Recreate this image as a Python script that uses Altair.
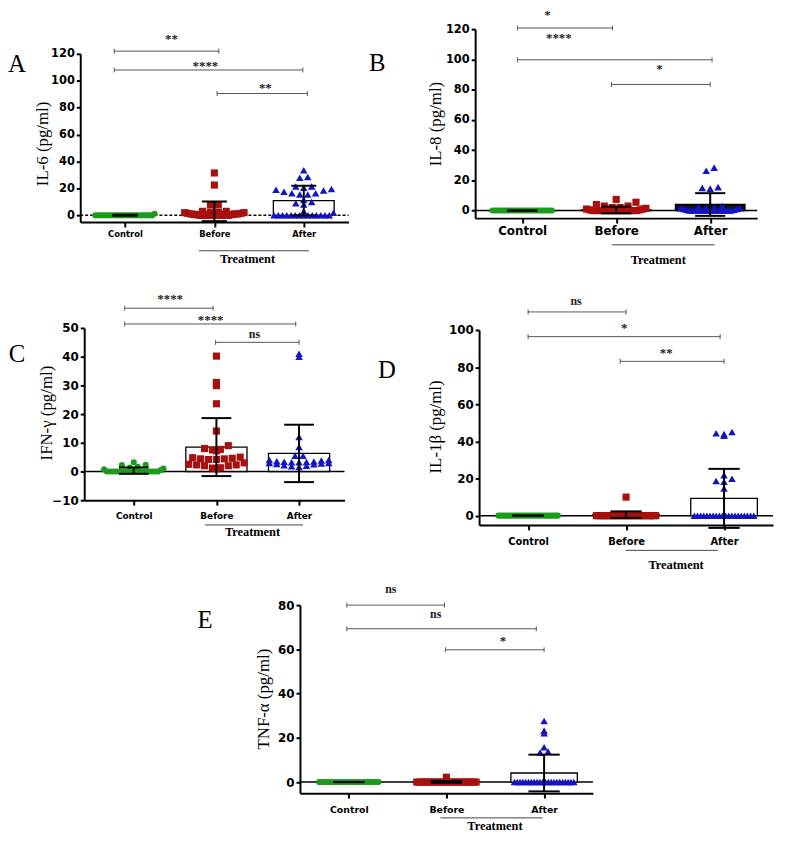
import altair as alt
import pandas as pd

categories = ["Control", "Before", "After"]
point_colors = ["#1c9c1c", "#a80f0f", "#1414c2"]
point_shapes = ["circle", "square", "triangle-up"]
point_sizes = [38, 52, 58]

# ---------------- Panel A : IL-6 ----------------
a_control = [1.2, 0, 0, 0, 0, 0, 0, 0, 0, 0, 0, 0, 0, 0, 0, 0, 0, 0, 0, 0, 0, 0, 0, 0, 0, 0]
a_before = [31.5, 22.5, 8, 8, 3, 3, 2.5, 2.5, 2, 2, 1.5, 1.5, 1, 1, 1, 0.5, 0.5, 0.5,
            0, 0, 0, 0, 0, 0, 0, 0, 0, 0]
a_after = [33.5, 28.5, 28, 21.5, 21.5, 20.5, 19.5, 19, 18.5, 17.5, 16.5, 16.5, 15.5, 15.5,
           11.5, 10, 9, 8, 3, 2, 0, 0, 0, 0, 0, 0, 0, 0, 0, 0, 0, 0, 0, 0]
a_means = [0.1, 3.0, 11.0]
a_sds = [0.4, 7.3, 11.0]
a_ticks = [0, 20, 40, 60, 80, 100, 120]
a_brackets = [(-0.12, 1.05, 122, "**", 0.52, 132.5),
              (-0.12, 1.99, 108, "****", 0.90, 112.7),
              (1.03, 2.04, 90.5, "**", 1.57, 95.7)]

# ---------------- Panel B : IL-8 ----------------
b_control = [0, 0, 0, 0, 0, 0, 0, 0, 0, 0, 0, 0, 0, 0, 0, 0, 0, 0, 0, 0, 0, 0, 0, 0, 0, 0, 0, 0]
b_before = [7.4, 5.5, 4, 3, 3, 2, 2, 1.5, 1, 1, 0.5, 0.5,
            0, 0, 0, 0, 0, 0, 0, 0, 0, 0, 0, 0, 0, 0, 0, 0]
b_after = [28.4, 26.4, 15.5, 15, 14.5, 3, 2.5, 2, 2, 1.5, 1.5, 1, 1, 0.5, 0.5,
           0, 0, 0, 0, 0, 0, 0, 0, 0, 0, 0, 0, 0, 0, 0]
b_means = [0.0, 0.4, 4.0]
b_sds = [0.0, 2.2, 7.5]
b_ticks = [0, 20, 40, 60, 80, 100, 120]
b_brackets = [(-0.05, 0.96, 120.7, "*", 0.27, 130.5),
              (-0.05, 2.02, 99.7, "****", 0.39, 115.4),
              (0.95, 2.0, 83.4, "*", 1.46, 95.2)]

# ---------------- Panel C : IFN-gamma ----------------
c_control = [3.2, 2.3, 2.2, 1.6, 1.4, 1.0, 0.8, 0.5,
             0, 0, 0, 0, 0, 0, 0, 0, 0, 0, 0, 0, 0, 0, 0, 0, 0, 0, 0, 0]
c_before = [40.2, 31, 29.9, 23.6, 14.1, 9, 8, 7.7, 7.5, 7.2, 5, 4.8, 4.6, 4.4, 4.4, 4.2, 4.2,
            3, 2.5, 2.3, 2.3, 2, 2, 1.3, 1.2, 1.0]
c_after = [41, 40, 12, 8.5, 5.5, 5.5, 4, 4, 3.8, 3.6, 3.5, 3.4, 3.3, 3.2, 3.2, 3, 3, 2.8,
           2.6, 2.5, 2.2, 2, 1.8, 1.6]
c_means = [0.3, 8.5, 6.3]
c_sds = [1.1, 10.1, 10.0]
c_ticks = [-10, 0, 10, 20, 30, 40, 50]
c_brackets = [(-0.11, 0.96, 56.9, "****", 0.44, 60.7),
              (-0.11, 1.96, 51.4, "****", 0.93, 53.6),
              (0.99, 2.0, 45.0, "ns", 1.46, 47.6)]

# ---------------- Panel D : IL-1beta ----------------
d_control = [0, 0, 0, 0, 0, 0, 0, 0, 0, 0, 0, 0, 0, 0, 0, 0, 0, 0, 0, 0, 0, 0, 0, 0, 0, 0]
d_before = [10, 0, 0, 0, 0, 0, 0, 0, 0, 0, 0, 0, 0, 0, 0, 0, 0, 0, 0, 0, 0, 0, 0, 0, 0, 0, 0, 0]
d_after = [45, 44.4, 43.9, 43, 21.7, 19.9, 18.7, 18.3, 14.6,
           0, 0, 0, 0, 0, 0, 0, 0, 0, 0, 0, 0, 0, 0, 0, 0, 0, 0, 0, 0]
d_means = [0.0, 0.55, 9.3]
d_sds = [0.0, 1.75, 15.9]
d_ticks = [0, 20, 40, 60, 80, 100]
d_brackets = [(0.0, 1.0, 109.7, "ns", 0.49, 115.1),
              (0.0, 1.96, 96.4, "*", 0.98, 102.1),
              (0.94, 2.0, 83.1, "**", 1.41, 88.4)]

# ---------------- Panel E : TNF-alpha ----------------
e_control = [0, 0, 0, 0, 0, 0, 0, 0, 0, 0, 0, 0, 0, 0, 0, 0, 0, 0, 0, 0, 0, 0, 0, 0, 0, 0]
e_before = [2.2, 0, 0, 0, 0, 0, 0, 0, 0, 0, 0, 0, 0, 0, 0, 0, 0, 0, 0, 0, 0, 0, 0, 0, 0, 0]
e_after = [27.6, 23.2, 22.1, 15.7, 13.8, 13.4,
           0, 0, 0, 0, 0, 0, 0, 0, 0, 0, 0, 0, 0, 0, 0, 0, 0, 0, 0, 0, 0, 0]
e_means = [0.0, 0.1, 4.1]
e_sds = [0.0, 0.4, 8.3]
e_ticks = [0, 20, 40, 60, 80]
e_brackets = [(-0.02, 0.98, 80, "ns", 0.43, 86.7),
              (-0.02, 1.92, 69.3, "ns", 0.89, 75.7),
              (0.99, 2.0, 59.8, "*", 1.58, 64.8)]

# ---------------- layout (page pixel positions) ----------------
M = 8
W, H = 777, 829

panels = [
    dict(letter="A", title="IL-6  (pg/ml)", vals=[a_control, a_before, a_after], means=a_means, sds=a_sds,
         ticks=a_ticks, brackets=a_brackets, xdom=(-0.5, 2.5), ydom=(-5, 120), xr=(81, 352), yr=(220, 50),
         letter_xy=(17, 60), title_xy=(43, 141), tline=(201, 312, 249), ttext=(250, 257),
         xlab=8.5, xpad=3, ylab=11.5, hw=0.34, cw=0.14, zdash=[3, 2], fills=["white", "white", "white"]),
    dict(letter="B", title="IL-8 (pg/ml)", vals=[b_control, b_before, b_after], means=b_means, sds=b_sds,
         ticks=b_ticks, brackets=b_brackets, xdom=(-0.5, 2.5), ydom=(-5, 120), xr=(480, 765), yr=(216, 25),
         letter_xy=(381, 59), title_xy=(440, 121), tline=(618, 722, 243), ttext=(665, 258),
         xlab=12, xpad=3, ylab=11.5, hw=0.37, cw=0.16, zdash=None, fills=["white", "white", "#111111"]),
    dict(letter="C", title="IFN-γ  (pg/ml)", vals=[c_control, c_before, c_after], means=c_means, sds=c_sds,
         ticks=c_ticks, brackets=c_brackets, xdom=(-0.6, 2.55), ydom=(-10, 50), xr=(85, 348), yr=(501, 327),
         letter_xy=(17, 353), title_xy=(47, 413), tline=(207, 306, 526), ttext=(255, 533),
         xlab=9, xpad=7, ylab=12, hw=0.37, cw=0.18, zdash=None, fills=["white", "white", "white"]),
    dict(letter="D", title="IL-1β (pg/ml)", vals=[d_control, d_before, d_after], means=d_means, sds=d_sds,
         ticks=d_ticks, brackets=d_brackets, xdom=(-0.5, 2.5), ydom=(-5, 100), xr=(484, 781), yr=(526, 329),
         letter_xy=(391, 370), title_xy=(440, 427), tline=(632, 725, 551.7), ttext=(683, 566.7),
         xlab=10, xpad=7, ylab=12, hw=0.34, cw=0.16, zdash=None, fills=["white", "white", "white"]),
    dict(letter="E", title="TNF-α  (pg/ml)", vals=[e_control, e_before, e_after], means=e_means, sds=e_sds,
         ticks=e_ticks, brackets=e_brackets, xdom=(-0.5, 2.5), ydom=(-5, 80), xr=(303, 599), yr=(797, 607),
         letter_xy=(207, 622), title_xy=(267, 702), tline=(445, 548, 822), ttext=(500, 830),
         xlab=9.5, xpad=7, ylab=12, hw=0.34, cw=0.16, zdash=None, fills=["white", "white", "white"]),
]


def swarm(vals, ppy, step, d=6.0, dx=8.0, maxw=60.0):
    """Prism-like scatter: points of similar value share a row, spread sideways."""
    buckets = {}
    for i, v in enumerate(vals):
        buckets.setdefault(int(round(v * ppy / d)), []).append(i)
    offs = [0.0] * len(vals)
    for idx in buckets.values():
        n = len(idx)
        s = dx if n < 2 else min(dx, maxw / (n - 1))
        slots = sorted([(j - (n - 1) / 2) * s for j in range(n)], key=lambda o: (abs(o), o))
        order = sorted(idx, key=lambda i: vals[i])
        for i, o in zip(order, slots):
            offs[i] = o / step
    return offs


def text_at(txt, x, y, **kw):
    return alt.Chart(pd.DataFrame({"t": [txt]})).mark_text(**kw).encode(
        x=alt.value(x - M), y=alt.value(y - M), text="t:N")


def build(p):
    x0, x1 = p["xr"]
    yb, yt = p["yr"]
    step = (x1 - x0) / (p["xdom"][1] - p["xdom"][0])
    ppy = (yb - yt) / (p["ydom"][1] - p["ydom"][0])
    xs = alt.Scale(domain=list(p["xdom"]), range=[x0 - M, x1 - M], zero=False, nice=False)
    ys = alt.Scale(domain=list(p["ydom"]), range=[yb - M, yt - M], zero=False, nice=False)
    lbl = "[" + ",".join("'%s'" % c for c in categories) + "][datum.value]"
    xaxis = alt.Axis(orient="bottom", offset=-(H - (yb - M)), values=[0, 1, 2], labelExpr=lbl, title=None,
                     grid=False, domainColor="black", domainWidth=2, tickColor="black", tickWidth=2,
                     tickSize=5, labelFont="DejaVu Sans", labelFontWeight="bold", labelFontSize=p["xlab"],
                     labelColor="black", labelPadding=p["xpad"], labelFlush=False, labelOverlap=False)
    yaxis = alt.Axis(orient="left", offset=-(x0 - M), values=p["ticks"], format="d", title=None, grid=False,
                     domainColor="black", domainWidth=2, tickColor="black", tickWidth=2, tickSize=4,
                     labelFont="DejaVu Sans", labelFontWeight="bold", labelFontSize=p["ylab"],
                     labelColor="black", labelPadding=2, labelFlush=False, labelOverlap=False)

    def X(f):
        return alt.X(f, type="quantitative", scale=xs, axis=xaxis)

    def Y(f):
        return alt.Y(f, type="quantitative", scale=ys, axis=yaxis)

    layers = []
    # zero line
    zl = pd.DataFrame({"x": [p["xdom"][0]], "x2": [p["xdom"][1]], "y": [0]})
    zkw = dict(color="black", strokeWidth=1.5)
    if p["zdash"]:
        zkw["strokeDash"] = p["zdash"]
    layers.append(alt.Chart(zl).mark_rule(**zkw).encode(x=X("x"), x2="x2", y=Y("y")))
    # bars (mean)
    bars = pd.DataFrame({"x": [i - p["hw"] for i in range(3)], "x2": [i + p["hw"] for i in range(3)],
                         "y": [0, 0, 0], "y2": p["means"], "fill": p["fills"]})
    layers.append(alt.Chart(bars).mark_bar(stroke="black", strokeWidth=1.3).encode(
        x=X("x"), x2="x2", y=Y("y"), y2="y2", fill=alt.Fill("fill:N", scale=None)))
    # points
    for g in range(3):
        vals = p["vals"][g]
        offs = swarm(vals, ppy, step)
        df = pd.DataFrame({"x": [g + o for o in offs], "y": vals})
        layers.append(alt.Chart(df).mark_point(filled=True, opacity=1, strokeWidth=0,
                                               shape=point_shapes[g], color=point_colors[g],
                                               size=point_sizes[g]).encode(x=X("x"), y=Y("y")))
    # error bars (mean +- SD)
    eb = pd.DataFrame({"x": [0, 1, 2], "y": [m - s for m, s in zip(p["means"], p["sds"])],
                       "y2": [m + s for m, s in zip(p["means"], p["sds"])]})
    layers.append(alt.Chart(eb).mark_rule(color="black", strokeWidth=2).encode(x=X("x"), y=Y("y"), y2="y2"))
    caps = pd.DataFrame({"x": [i - p["cw"] for i in range(3)] * 2, "x2": [i + p["cw"] for i in range(3)] * 2,
                         "y": list(eb["y"]) + list(eb["y2"])})
    layers.append(alt.Chart(caps).mark_rule(color="black", strokeWidth=2).encode(x=X("x"), x2="x2", y=Y("y")))
    # significance brackets
    c = 2.5 / ppy
    br = pd.DataFrame({"x": [b[0] for b in p["brackets"]], "x2": [b[1] for b in p["brackets"]],
                       "y": [b[2] for b in p["brackets"]]})
    layers.append(alt.Chart(br).mark_rule(color="#555555", strokeWidth=1).encode(x=X("x"), x2="x2", y=Y("y")))
    ends = pd.DataFrame({"x": [b[0] for b in p["brackets"]] + [b[1] for b in p["brackets"]],
                         "y": [b[2] - c for b in p["brackets"]] * 2, "y2": [b[2] + c for b in p["brackets"]] * 2})
    layers.append(alt.Chart(ends).mark_rule(color="#555555", strokeWidth=1).encode(x=X("x"), y=Y("y"), y2="y2"))
    stars = pd.DataFrame({"x": [b[4] for b in p["brackets"] if "*" in b[3]],
                          "y": [b[5] for b in p["brackets"] if "*" in b[3]],
                          "t": [b[3] for b in p["brackets"] if "*" in b[3]]})
    ns = pd.DataFrame({"x": [b[4] for b in p["brackets"] if "*" not in b[3]],
                       "y": [b[5] for b in p["brackets"] if "*" not in b[3]],
                       "t": [b[3] for b in p["brackets"] if "*" not in b[3]]})
    if len(stars):
        layers.append(alt.Chart(stars).mark_text(font="Liberation Serif", fontWeight="bold", fontSize=13,
                                                 color="#222222", baseline="middle", dy=2).encode(
            x=X("x"), y=Y("y"), text="t:N"))
    if len(ns):
        layers.append(alt.Chart(ns).mark_text(font="Liberation Serif", fontWeight="bold", fontSize=12,
                                              color="#222222", baseline="middle", dy=-1).encode(
            x=X("x"), y=Y("y"), text="t:N"))
    # annotations
    layers.append(text_at(p["letter"], *p["letter_xy"], font="Liberation Serif", fontSize=25, color="black",
                          baseline="middle", align="center"))
    layers.append(text_at(p["title"], *p["title_xy"], font="Liberation Serif", fontSize=17, color="black",
                          angle=270, baseline="middle", align="center"))
    tx1, tx2, ty = p["tline"]
    layers.append(alt.Chart(pd.DataFrame({"a": [0]})).mark_rule(color="#444444", strokeWidth=1).encode(
        x=alt.value(tx1 - M), x2=alt.value(tx2 - M), y=alt.value(ty - M)))
    layers.append(text_at("Treatment", *p["ttext"], font="Liberation Serif", fontWeight="bold", fontSize=12.5,
                          color="black", baseline="middle", align="center"))
    return alt.layer(*layers)


chart = alt.layer(*[build(p) for p in panels]).resolve_scale(
    x="independent", y="independent"
).properties(
    width=W, height=H, padding=0, autosize=alt.AutoSizeParams(type="none"), background="white"
).configure_view(stroke=None)

chart.save("out.html", embed_options={"renderer": "svg", "actions": False})
